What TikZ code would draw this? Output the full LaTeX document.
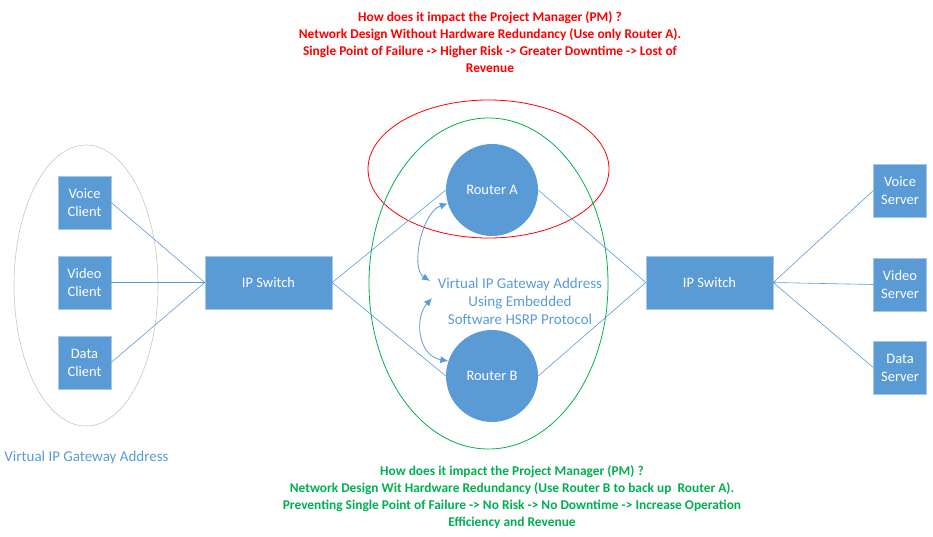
\documentclass[tikz,border=0pt]{standalone}
\usepackage{fontspec}
\setmainfont{Carlito}
\usetikzlibrary{arrows.meta}
\definecolor{netblue}{HTML}{5B9BD5}
\definecolor{pmred}{HTML}{FF0000}
\definecolor{pmgreen}{HTML}{00B050}
\begin{document}
\begin{tikzpicture}[x=1pt,y=-1pt,
  box/.style={fill=netblue, draw=netblue!55!white, text=white, align=center,
    inner sep=0pt, font=\fontsize{14.5}{18}\selectfont},
  device/.style={box, minimum width=53pt, minimum height=53pt},
  switchbox/.style={box, minimum width=127pt, minimum height=53pt},
  router/.style={circle, fill=netblue, text=white, minimum size=92pt,
    inner sep=0pt, font=\fontsize{14.5}{18}\selectfont},
  link/.style={draw=netblue, line width=0.6pt},
  hsrp/.style={draw=netblue, line width=0.8pt, {Latex[length=8pt,width=7pt]}-{Latex[length=8pt,width=7pt]}},
  pmnote/.style={align=center, font=\bfseries\fontsize{13.4}{17}\selectfont}]
\useasboundingbox (0,0) rectangle (933,536);

% groups
\draw[gray!45, line width=0.6pt] (86,285.5) ellipse [x radius=72, y radius=140.5];
\draw[pmred, line width=0.8pt] (488.5,169) ellipse [x radius=120.5, y radius=69];
\draw[pmgreen, line width=0.8pt] (488.5,283.5) ellipse [x radius=119.5, y radius=165.5];

% clients
\node[device] (voicec) at (84.5,202.5) {Voice\\Client};
\node[device] (videoc) at (84.5,282.5) {Video\\Client};
\node[device] (datac) at (84.5,362.5) {Data\\Client};

% switches
\node[switchbox] (swl) at (268.5,282.5) {IP Switch};
\node[switchbox] (swr) at (709.5,282.5) {IP Switch};

% routers
\node[router] (ra) at (492,190) {Router A};
\node[router] (rb) at (492,376) {Router B};

% servers
\node[device] (voices) at (900,190.5) {Voice\\Server};
\node[device] (videos) at (900,284.5) {Video\\Server};
\node[device] (datas) at (900,367.5) {Data\\Server};

% links
\foreach \c in {voicec,videoc,datac}
  \draw[link] (\c.east) -- (swl.west);
\foreach \s in {voices,videos,datas}
  \draw[link] (swr.east) -- (\s.west);
\draw[link] (swl.east) -- (ra.west);
\draw[link] (swl.east) -- (rb.west);
\draw[link] (ra.east) -- (swr.west);
\draw[link] (rb.east) -- (swr.west);

% virtual gateway
\node[text=netblue, align=center, font=\fontsize{15}{18}\selectfont] (vgw) at (520,301)
  {Virtual IP Gateway Address\\Using Embedded\\Software HSRP Protocol};
\coordinate (hsrpa) at (430,281);
\coordinate (hsrpb) at (432,298);
\draw[hsrp] (ra.197) .. controls (422,212) and (410,268) .. (hsrpa);
\draw[hsrp] (hsrpb) .. controls (414,318) and (418,356) .. (rb.161);

\node[text=netblue, font=\fontsize{15}{18}\selectfont] (vgwlabel) at (86.5,457)
  {Virtual IP Gateway Address};

% notes
\node[pmnote, text=pmred] (pmtop) at (490,42)
  {How does it impact the Project Manager (PM) ?\\
   Network Design Without Hardware Redundancy (Use only Router A).\\
   Single Point of Failure -> Higher Risk -> Greater Downtime -> Lost of\\
   Revenue};
\node[pmnote, text=pmgreen] (pmbottom) at (512,497.5)
  {How does it impact the Project Manager (PM) ?\\
   Network Design Wit Hardware Redundancy (Use Router B to back up\ \ Router A).\\
   Preventing Single Point of Failure -> No Risk -> No Downtime -> Increase Operation\\
   Efficiency and Revenue};
\end{tikzpicture}
\end{document}
